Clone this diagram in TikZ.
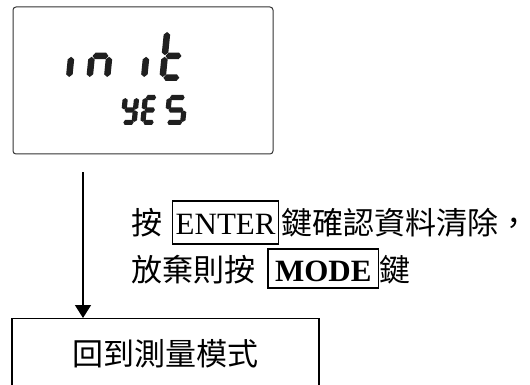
\documentclass[tikz,border=0pt]{standalone}
\usepackage{fontspec}
\setmainfont{Liberation Serif}
\newfontfamily\cjk{Noto Sans CJK TC}
\usetikzlibrary{arrows.meta}
\newcommand\sW{24}\newcommand\sH{50}\newcommand\sT{6.5}\newcommand\sG{0.8}\newcommand\sP{2.6}
% vertical segment: left u, bottom tip v, top tip v
\newcommand\sgV[3]{\fill[segcol] ({#1+\sT/2},{-(#2)}) -- ({#1+\sT},{-(#2)-\sP}) -- ({#1+\sT},{-(#3)+\sP}) -- ({#1+\sT/2},{-(#3)}) -- ({#1},{-(#3)+\sP}) -- ({#1},{-(#2)-\sP}) -- cycle;}
% horizontal segment: left tip u, right tip u, centre v
\newcommand\sgH[3]{\fill[segcol] ({#1},{-(#3)}) -- ({#1+\sP},{-(#3)-\sT/2}) -- ({#2-\sP},{-(#3)-\sT/2}) -- ({#2},{-(#3)}) -- ({#2-\sP},{-(#3)+\sT/2}) -- ({#1+\sP},{-(#3)+\sT/2}) -- cycle;}
\newcommand\segA{\sgH{\sT/2+\sG}{\sW-\sT/2-\sG}{\sH-\sT/2}}
\newcommand\segG{\sgH{\sT/2+\sG}{\sW-\sT/2-\sG}{\sH/2}}
\newcommand\segD{\sgH{\sT/2+\sG}{\sW-\sT/2-\sG}{\sT/2}}
\newcommand\segF{\sgV{0}{\sH/2+\sG}{\sH-\sT/2-\sG}}
\newcommand\segFt{\sgV{0}{\sH/2+\sG}{\sH-1}}
\newcommand\segE{\sgV{0}{\sT/2+\sG}{\sH/2-\sG}}
\newcommand\segB{\sgV{\sW-\sT}{\sH/2+\sG}{\sH-\sT/2-\sG}}
\newcommand\segC{\sgV{\sW-\sT}{\sT/2+\sG}{\sH/2-\sG}}
\begin{document}
\begin{tikzpicture}[x=1pt,y=-1pt,
  lcdbox/.style={draw=black!80, line width=1pt, rounded corners=3pt, minimum width=260pt, minimum height=147pt, inner sep=0pt},
  segcol/.style={fill=black!88},
  digit/.style={xslant=0.1},
  cjktxt/.style={font=\cjk\fontsize{31}{37}\selectfont, inner sep=0pt, outer sep=0pt, anchor=base west},
  keybox/.style={draw, line width=1.3pt, inner ysep=0pt, outer sep=0pt, anchor=base west, font=\fontsize{31}{37}\selectfont},
  modebox/.style={draw, line width=1.3pt, minimum width=307pt, minimum height=70pt, inner sep=0pt, anchor=north, font=\cjk\fontsize{31}{37}\selectfont},
  flowarrow/.style={line width=1.5pt, -{Triangle[width=16pt,length=13pt]}}]
\useasboundingbox (0,0) rectangle (530,385);
\clip (0,0) rectangle (530,385);

% LCD display box
\node[lcdbox] (lcd) at (143,80.5) {};

% "init" row
\begin{scope}[shift={(48,81)},digit]\segC\end{scope}
\begin{scope}[shift={(86,81)},digit]\segE\segG\segC\end{scope}
\begin{scope}[shift={(123,81)},digit]\segC\end{scope}
\begin{scope}[shift={(159,81)},digit]\segFt\segE\segG\segD\end{scope}

% "YES" row
\renewcommand\sW{16.5}\renewcommand\sH{30}\renewcommand\sT{5.2}\renewcommand\sG{0.5}\renewcommand\sP{1.6}
\begin{scope}[shift={(120,125)},digit]\segF\segB\segG\segC\segD\end{scope}
\begin{scope}[shift={(140,125)},digit]\segA\segF\segG\segE\segD\end{scope}
\renewcommand\sW{21}
\begin{scope}[shift={(164,125)},digit]\segA\segF\segG\segC\segD\end{scope}

% instruction text
\node[cjktxt] (t1a) at (131.5,234) {按};
\node[keybox, inner xsep=3pt, text height=33pt, text depth=10pt] (enter) at (172.7,234) {ENTER};
\node[cjktxt] (t1b) at (281,234) {鍵確認資料清除，};
\node[cjktxt] (t2a) at (131.5,281) {放棄則按};
\node[keybox, inner xsep=7pt, text height=32pt, text depth=7pt] (mode) at (268,281) {\textbf{MODE}};
\node[cjktxt] (t2b) at (379,281) {鍵};

% result box
\node[modebox] (back) at (165.5,318) {回到測量模式};

% connector
\coordinate (astart) at (83,172);
\draw[flowarrow] (astart) -- (astart |- back.north);
\end{tikzpicture}
\end{document}
